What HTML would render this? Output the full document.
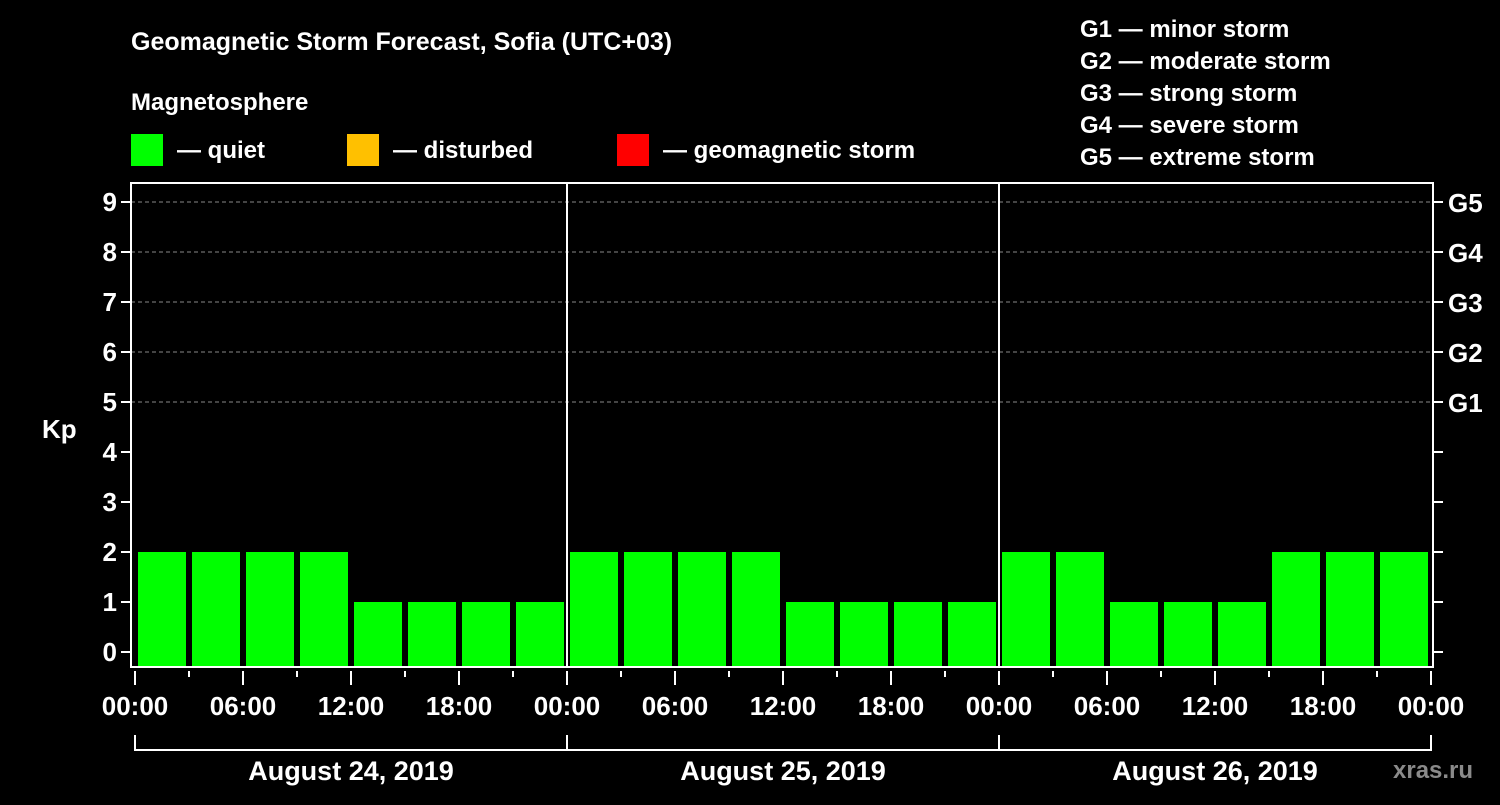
<!DOCTYPE html>
<html><head><meta charset="utf-8"><style>
body{margin:0;background:#000;width:1500px;height:800px;overflow:hidden}
svg text{font-family:"Liberation Sans",sans-serif;font-weight:bold;fill:#fff}
</style></head><body>
<svg id="c" width="1500" height="800">
<text x="131" y="50" font-size="25">Geomagnetic Storm Forecast, Sofia (UTC+03)</text>
<text x="131" y="110" font-size="24">Magnetosphere</text>
<rect x="131" y="134" width="32" height="32" fill="#00ff00"/>
<text x="177" y="158" font-size="24">— quiet</text>
<rect x="347" y="134" width="32" height="32" fill="#ffc000"/>
<text x="393" y="158" font-size="24">— disturbed</text>
<rect x="617" y="134" width="32" height="32" fill="#ff0000"/>
<text x="663" y="158" font-size="24">— geomagnetic storm</text>
<g font-size="24">
<text x="1080" y="37">G1 — minor storm</text>
<text x="1080" y="69">G2 — moderate storm</text>
<text x="1080" y="101">G3 — strong storm</text>
<text x="1080" y="133">G4 — severe storm</text>
<text x="1080" y="165">G5 — extreme storm</text>
</g>
<text x="42" y="438" font-size="26">Kp</text>
<text x="1393" y="778" font-size="24" fill="#888" style="fill:#8a8a8a">xras.ru</text>
<g id="plot"></g>
</svg>
<script>
const kpValues=[2,2,2,2,1,1,1,1, 2,2,2,2,1,1,1,1, 2,2,1,1,1,2,2,2];
const dayLabels=["August 24, 2019","August 25, 2019","August 26, 2019"];
const hourLabels=["00:00","06:00","12:00","18:00"];
const gLabels=["G1","G2","G3","G4","G5"];
const L=131,R=1433,T=183,B=667,X0=135,DAY=432;
const y=v=>652-v*50;
const x=h=>X0+h*DAY/24;
const g=document.getElementById('plot');
const NS='http://www.w3.org/2000/svg';
function el(t,a){const e=document.createElementNS(NS,t);for(const k in a)e.setAttribute(k,a[k]);g.appendChild(e);return e;}
for(let k=0;k<=9;k++){
 if(k>=5){const l=el('line',{x1:L,x2:R,y1:y(k),y2:y(k),stroke:'#888','stroke-dasharray':'4,3','stroke-width':1});
 
 }
 const t=el('line',{x1:L-10,x2:L,y1:y(k),y2:y(k),stroke:'#fff','stroke-width':2});
 
 
 const t2=el('line',{x1:R,x2:R+10,y1:y(k),y2:y(k),stroke:'#fff','stroke-width':2});
 
 
 const tx=el('text',{x:L-14,y:y(k)+9,'text-anchor':'end','font-size':26});tx.textContent=k;
 
 
}
gLabels.forEach((s,i)=>{const tx=el('text',{x:1448,y:y(5+i)+10,'font-size':26});tx.textContent=s;
 
 });
kpValues.forEach((v,i)=>{const c=v>=5?'#ff0000':v>=4?'#ffc000':'#00ff00';
 const r=el('rect',{x:x(i*3)+3,y:y(v),width:48,height:B-y(v),fill:c});
 
 });
for(let d=1;d<dayLabels.length;d++){const l=el('line',{x1:x(d*24),x2:x(d*24),y1:T,y2:B,stroke:'#fff','stroke-width':2});
 
 }
const fr=el('rect',{x:L,y:T,width:R-L,height:B-T,fill:'none',stroke:'#fff','stroke-width':2});


for(let h=0;h<=72;h+=3){const maj=h%6==0;
 const t=el('line',{x1:x(h),x2:x(h),y1:B+4,y2:maj?B+18:B+10,stroke:'#fff','stroke-width':2});
 
 
 if(maj){const tx=el('text',{x:x(h),y:715,'text-anchor':'middle','font-size':26});tx.textContent=hourLabels[(h/6)%4];
 
 }}
dayLabels.forEach((s,d)=>{
 const p=el('path',{d:`M${x(d*24)} 735V750H${x(d*24+24)}V735`,fill:'none',stroke:'#fff','stroke-width':2});
 
 
 const tx=el('text',{x:x(d*24+12),y:780,'text-anchor':'middle','font-size':27});tx.textContent=s;
 
 });
</script>
</body></html>
